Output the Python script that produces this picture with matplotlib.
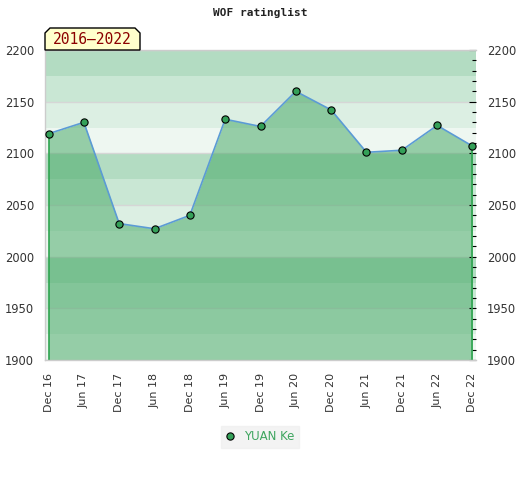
import matplotlib
matplotlib.use("Agg")
import matplotlib.pyplot as plt
from matplotlib.patches import Polygon
from matplotlib.ticker import MultipleLocator
import numpy as np

# rating every half year, Dec 16 .. Dec 22
periods = ["Dec 16", "Jun 17", "Dec 17", "Jun 18", "Dec 18", "Jun 19", "Dec 19",
           "Jun 20", "Dec 20", "Jun 21", "Dec 21", "Jun 22", "Dec 22"]
rating = [2119, 2130, 2032, 2027, 2040, 2133, 2126, 2160, 2142, 2101, 2103, 2127, 2107]
player = "YUAN Ke"
span_label = "2016\u20132022"
chart_title = "WOF ratinglist"

y_min, y_max = 1900, 2200

green = "#3ea55f"
band_colors = ["#eef7f1", "#dcefe3", "#c9e7d4", "#b3dcc2"]

fig = plt.figure(figsize=(5.2, 4.8), dpi=100)
ax = fig.add_axes([45 / 520, 1 - 360 / 480, 431 / 520, 310 / 480])

x = np.arange(len(periods))

# background bands of 25 points, repeating every 100
for i, lo in enumerate(range(y_min, y_max, 25)):
    ax.axhspan(lo, lo + 25, color=band_colors[i % 4], lw=0, zorder=0)
for g in range(y_min, y_max + 1, 50):
    ax.axhline(g, color="#d6d6d6", lw=1, zorder=0.5)

ax.fill_between(x, rating, y_min, color=green, alpha=0.5, lw=0, zorder=1)
ax.vlines([x[0], x[-1]], y_min, [rating[0], rating[-1]], color="#2ea44f", lw=1.2, zorder=2)
ax.plot(x, rating, color="#5b9bd5", lw=1.2, zorder=3)
ax.plot(x, rating, "o", ms=5.2, mfc="#34a058", mec="black", mew=0.8, zorder=4,
        label=player)

ax.set_xlim(-0.1, len(periods) - 0.9)
ax.set_ylim(y_min, y_max)

ax.set_xticks(x)
ax.set_xticklabels(periods, rotation=90, fontsize=8, color="#333333")
ax.tick_params(axis="x", length=0, pad=9)

ax.yaxis.set_major_locator(MultipleLocator(50))
ax.yaxis.set_minor_locator(MultipleLocator(10))
ax.tick_params(axis="y", which="both", left=False, right=True,
               labelleft=True, labelright=True, direction="in",
               labelsize=8.3, labelcolor="#333333", pad=8)
ax.tick_params(axis="y", which="major", length=5, width=0.8)
ax.tick_params(axis="y", which="minor", length=3, width=0.8)

for side in ["left", "top", "bottom"]:
    ax.spines[side].set_color("#cccccc")
    ax.spines[side].set_linewidth(1)
ax.spines["right"].set_visible(False)

fig.text(0.5, 1 - 13 / 480, chart_title, ha="center", va="center",
         family="DejaVu Sans Mono", fontweight="bold", fontsize=8, color="#222222")

# period label tab with clipped top corners
px = np.array([45, 45, 50, 135, 140, 140]) / 520
py = 1 - np.array([50, 33, 28, 28, 33, 50]) / 480
fig.patches.append(Polygon(np.column_stack([px, py]), closed=True,
                           transform=fig.transFigure, facecolor="#ffffcc",
                           edgecolor="black", lw=1, zorder=5))
fig.text(92 / 520, 1 - 40 / 480, span_label, ha="center", va="center",
         family="DejaVu Sans Mono", fontsize=10.5, color="#8b0000", zorder=6)

leg = ax.legend(loc="center", bbox_to_anchor=(260 / 520, 1 - 437 / 480),
                bbox_transform=fig.transFigure, frameon=True, fancybox=False,
                facecolor="#f0f0f0", edgecolor="#f0f0f0", fontsize=8.5,
                handlelength=0.8, handletextpad=0.8, borderpad=0.35)
for t in leg.get_texts():
    t.set_color(green)

fig.savefig("out.png", dpi=100)
